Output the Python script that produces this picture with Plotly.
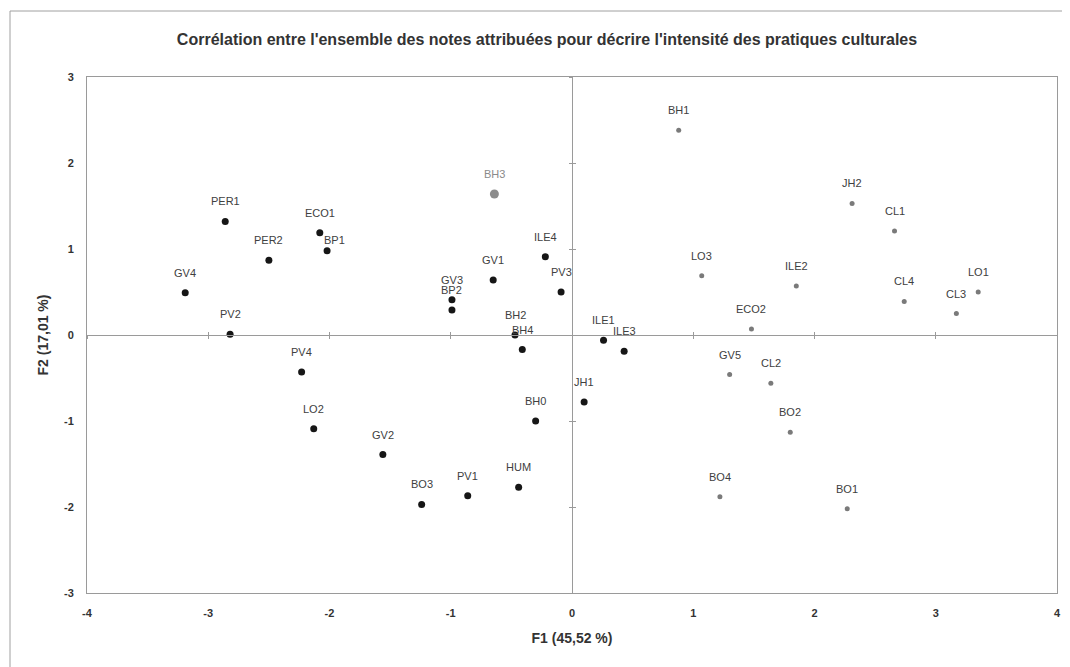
import plotly.graph_objects as go

# ---- data ----
black_labels = ["PER1", "ECO1", "BP1", "PER2", "GV4", "PV2", "ILE4", "GV1", "PV3", "GV3", "BP2",
                "BH2", "BH4", "ILE1", "ILE3", "PV4", "LO2", "GV2", "BO3", "PV1", "HUM", "BH0", "JH1"]
black_f1 = [-2.86, -2.08, -2.02, -2.50, -3.19, -2.82, -0.22, -0.65, -0.09, -0.99, -0.99,
            -0.47, -0.41, 0.26, 0.43, -2.23, -2.13, -1.56, -1.24, -0.86, -0.44, -0.30, 0.10]
black_f2 = [1.32, 1.19, 0.98, 0.87, 0.49, 0.01, 0.91, 0.64, 0.50, 0.41, 0.29,
            0.00, -0.17, -0.06, -0.19, -0.43, -1.09, -1.39, -1.97, -1.87, -1.77, -1.00, -0.78]

gray_labels = ["BH1", "JH2", "CL1", "LO3", "ILE2", "CL4", "LO1", "CL3", "ECO2", "GV5", "CL2",
               "BO2", "BO4", "BO1"]
gray_f1 = [0.88, 2.31, 2.66, 1.07, 1.85, 2.74, 3.35, 3.17, 1.48, 1.30, 1.64, 1.80, 1.22, 2.27]
gray_f2 = [2.38, 1.53, 1.21, 0.69, 0.57, 0.39, 0.50, 0.25, 0.07, -0.46, -0.56, -1.13, -1.88, -2.02]

supp_labels = ["BH3"]
supp_f1 = [-0.64]
supp_f2 = [1.64]

x_ticks = [-4, -3, -2, -1, 0, 1, 2, 3, 4]
x_ticktext = ["-4", "-3", "-2", "-1", "0", "1", "2", "3", "4"]
y_ticks = [-3, -2, -1, 0, 1, 2, 3]
y_ticktext = ["-3", "-2", "-1", "0", "1", "2", "3"]

title_text = "Corrélation entre l'ensemble des notes attribuées pour décrire l'intensité des pratiques culturales"
x_title = "F1 (45,52 %)"
y_title = "F2 (17,01 %)"

# ---- styles ----
FONT = "Liberation Sans"
LABEL_COLOR = "#404040"
AXIS_COLOR = "#9a9a9a"
TEXT_COLOR = "#333333"
label_offsets = {"BP1": (7, 11)}  # (xshift, yshift) exceptions; default (0, 20)

# page has an 8px body margin, so the figure is sized/offset to compensate
W, H = 1062, 659
ML, MR, MT, MB = 79, 13, 69, 74
PW, PH = W - ML - MR, H - MT - MB

fig = go.Figure()

fig.add_trace(go.Scatter(x=black_f1, y=black_f2, mode="markers",
                         marker=dict(size=7, color="#161616"), hoverinfo="text",
                         text=black_labels, showlegend=False))
fig.add_trace(go.Scatter(x=gray_f1, y=gray_f2, mode="markers",
                         marker=dict(size=5, color="#7a7a7a"), hoverinfo="text",
                         text=gray_labels, showlegend=False))
fig.add_trace(go.Scatter(x=supp_f1, y=supp_f2, mode="markers",
                         marker=dict(size=9, color="#8c8c8c"), hoverinfo="text",
                         text=supp_labels, showlegend=False))

# invisible traces so the zero-crossing axes are drawn
fig.add_trace(go.Scatter(x=[], y=[], xaxis="x2", yaxis="y", showlegend=False, hoverinfo="skip"))
fig.add_trace(go.Scatter(x=[], y=[], xaxis="x3", yaxis="y", showlegend=False, hoverinfo="skip"))
fig.add_trace(go.Scatter(x=[], y=[], xaxis="x", yaxis="y2", showlegend=False, hoverinfo="skip"))
fig.add_trace(go.Scatter(x=[], y=[], xaxis="x", yaxis="y3", showlegend=False, hoverinfo="skip"))

annotations = []
for labels, xs, ys, col in [(black_labels, black_f1, black_f2, LABEL_COLOR),
                            (gray_labels, gray_f1, gray_f2, LABEL_COLOR),
                            (supp_labels, supp_f1, supp_f2, "#8a8a8a")]:
    for lab, xv, yv in zip(labels, xs, ys):
        xs_, ys_ = label_offsets.get(lab, (0, 20))
        annotations.append(dict(x=xv, y=yv, xref="x", yref="y", text=lab, showarrow=False,
                                xshift=xs_, yshift=ys_,
                                font=dict(family=FONT, size=11, color=col)))

xr = [x_ticks[0], x_ticks[-1]]
yr = [y_ticks[0], y_ticks[-1]]

zero_axis = dict(showline=True, linecolor=AXIS_COLOR, linewidth=1, showgrid=False,
                 zeroline=False, showticklabels=False, tickcolor=AXIS_COLOR, ticklen=3,
                 tickwidth=1, anchor="free", position=0.5)

tickfont = dict(family=FONT, size=11, color=TEXT_COLOR, weight="bold")
axtitlefont = dict(family=FONT, size=14, color=TEXT_COLOR, weight="bold")

fig.update_layout(
    width=W, height=H,
    paper_bgcolor="white", plot_bgcolor="white",
    margin=dict(l=ML, r=MR, t=MT, b=MB, autoexpand=False),
    title=dict(text=title_text, x=539 / W, xanchor="center", y=1 - 31 / H, yanchor="middle",
               font=dict(family=FONT, size=16, color=TEXT_COLOR, weight="bold")),
    xaxis=dict(range=xr, tickvals=x_ticks, ticktext=x_ticktext, showgrid=False, zeroline=False,
               showline=True, mirror=True, linecolor=AXIS_COLOR, linewidth=1, ticks="",
               ticklabelstandoff=10,
               tickfont=tickfont,
               title=dict(text=x_title, standoff=14, font=axtitlefont)),
    yaxis=dict(range=yr, tickvals=y_ticks, ticktext=y_ticktext, showgrid=False, zeroline=False,
               showline=True, mirror=True, linecolor=AXIS_COLOR, linewidth=1, ticks="",
               ticklabelstandoff=10,
               tickfont=tickfont,
               title=dict(text=y_title, standoff=12, font=axtitlefont)),
    xaxis2=dict(range=xr, tickvals=x_ticks, overlaying="x", ticks="outside", **zero_axis),
    xaxis3=dict(range=xr, tickvals=x_ticks, overlaying="x", ticks="inside", **zero_axis),
    yaxis2=dict(range=yr, tickvals=y_ticks, overlaying="y", ticks="outside", **zero_axis),
    yaxis3=dict(range=yr, tickvals=y_ticks, overlaying="y", ticks="inside", **zero_axis),
    annotations=annotations,
    shapes=[dict(type="rect", xref="paper", yref="paper",
                 x0=(2 - ML) / PW, x1=(1056 - ML) / PW,
                 y0=(PH + MT - 700) / PH, y1=(PH + MT - 3) / PH,
                 line=dict(color="#a0a0a0", width=1), layer="below")],
)

fig.write_html("out.html")
